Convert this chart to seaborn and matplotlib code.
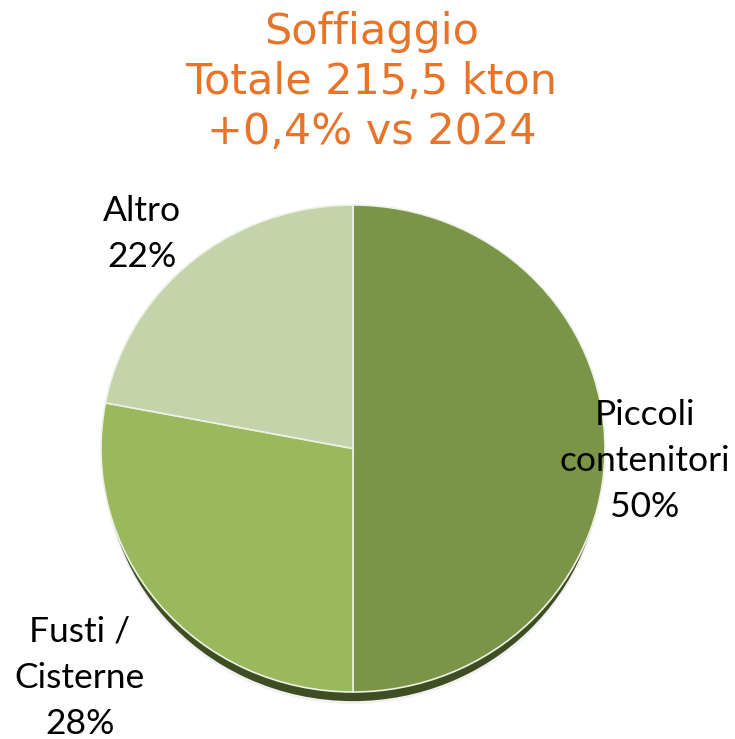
import matplotlib
matplotlib.use("Agg")
import matplotlib.pyplot as plt
import seaborn as sns

# data
categories = ["Piccoli\ncontenitori", "Fusti /\nCisterne", "Altro"]
shares = [50, 28, 22]
colors = ["#7b9548", "#9ab95c", "#c4d3aa"]
rim_color = "#3f4e22"
title_lines = ["Soffiaggio", "Totale 215,5 kton", "+0,4% vs 2024"]

sns.set_theme(style="white")
plt.rcParams["font.family"] = ["DejaVu Sans"]

W, H = 735, 739
fig = plt.figure(figsize=(W / 100, H / 100), dpi=100)
ax = fig.add_axes([0, 0, 1, 1])

# pie geometry in pixels (slightly squashed vertically)
cx, cy_px, rx, ry = 353, 448.5, 252, 243.5
sy = ry / rx
cy = (H - cy_px) / sy

# soft shadow + dark rim under the pie
ax.pie(shares, colors=["#c8c8c8"] * 3, startangle=90, counterclock=False,
       center=(cx, cy - 15 / sy), radius=rx - 3,
       wedgeprops=dict(linewidth=0, alpha=0.25))
ax.pie(shares, colors=[rim_color] * 3, startangle=90, counterclock=False,
       center=(cx, cy - 13 / sy), radius=rx - 4,
       wedgeprops=dict(linewidth=0))
ax.pie(shares, colors=colors, startangle=90, counterclock=False,
       center=(cx, cy), radius=rx,
       wedgeprops=dict(edgecolor="#eef2e6", linewidth=1.2))

ax.set_aspect("auto")
ax.set_xlim(0, W)
ax.set_ylim(0, H / sy)
ax.axis("off")

# title
for i, line in enumerate(title_lines):
    fig.text(0.5 + 4 / W, 1 - (32 + 50 * i) / H, line, ha="center", va="center",
             fontsize=31, color="#e8742a", family="DejaVu Sans")

# slice labels (pixel centres)
label_pos = [(645, 461), (80, 678), (142, 234)]
for cat, val, (lx, ly) in zip(categories, shares, label_pos):
    fig.text(lx / W, 1 - ly / H, f"{cat}\n{val}%", ha="center", va="center",
             multialignment="center", fontsize=25.5, color="black",
             family="Lato", linespacing=1.55)

fig.savefig("out.png", dpi=100)
